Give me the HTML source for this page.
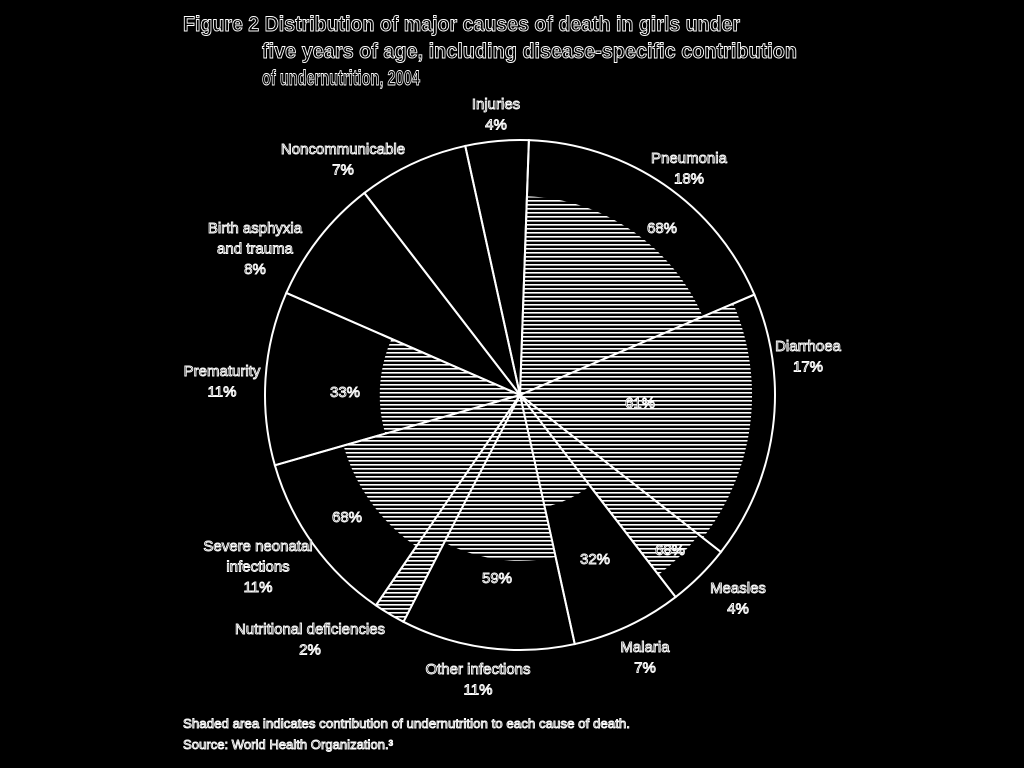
<!DOCTYPE html>
<html><head><meta charset="utf-8"><style>
html,body{margin:0;padding:0;background:#000;}
svg{display:block}
text{font-family:"Liberation Sans Narrow","Liberation Sans",sans-serif;fill:#000;stroke:#fff;stroke-width:0.9px;}
</style></head><body>
<svg id="chart" width="1024" height="768" viewBox="0 0 1024 768">
<defs>
<pattern id="hatch" patternUnits="userSpaceOnUse" width="8" height="4">
<rect width="8" height="4" fill="#000"/>
<rect y="0" width="8" height="1.6" fill="#fff"/>
</pattern>
</defs>
<g>
<text x="183" y="31" font-size="21" font-weight="bold" textLength="557" lengthAdjust="spacingAndGlyphs">Figure 2 Distribution of major causes of death in girls under</text>
<text x="262" y="58" font-size="21" font-weight="bold" textLength="535" lengthAdjust="spacingAndGlyphs">five years of age, including disease-specific contribution</text>
<text x="262" y="85" font-size="21" font-weight="bold" textLength="158" lengthAdjust="spacingAndGlyphs">of undernutrition, 2004</text>
</g>
<g id="slices"></g>
<g id="labels"></g>
<g>
<text x="183" y="728" font-size="13" textLength="447" lengthAdjust="spacingAndGlyphs">Shaded area indicates contribution of undernutrition to each cause of death.</text>
<text x="183" y="749" font-size="13" textLength="210" lengthAdjust="spacingAndGlyphs">Source: World Health Organization.³</text>
</g>
</svg>
<script>
const categories=["Pneumonia","Diarrhoea","Measles","Malaria","Other infections","Nutritional deficiencies","Severe neonatal infections","Prematurity","Birth asphyxia and trauma","Noncommunicable","Injuries"];
const shares=[18,17,4,7,11,2,11,11,8,7,4];
const undernutrition=[68,61,68,32,59,100,68,33,0,0,0];
const hatchRadius=[0.78,0.91,0.89,0.45,0.65,1.0,0.72,0.55,0,0,0];
const outerLabels=[
 [["Pneumonia","18%"],689,158],
 [["Diarrhoea","17%"],808,346],
 [["Measles","4%"],738,588],
 [["Malaria","7%"],645,647],
 [["Other infections","11%"],478,669],
 [["Nutritional deficiencies","2%"],310,629],
 [["Severe neonatal","infections","11%"],258,546],
 [["Prematurity","11%"],222,371],
 [["Birth asphyxia","and trauma","8%"],255,228],
 [["Noncommunicable","7%"],343,149],
 [["Injuries","4%"],496,104]];
const innerPos=[[662,228],[640,403],[670,550],[595,559],[497,578],null,[347,517],[345,392],null,null,null];
const CX=520,CY=395,R=255,START=2;
const NS="http://www.w3.org/2000/svg";
const sg=document.getElementById('slices'),lg=document.getElementById('labels');
function pt(a,r){const t=(a-90)*Math.PI/180;return [CX+r*Math.cos(t),CY+r*Math.sin(t)];}
function arc(a0,a1,r){const p0=pt(a0,r),p1=pt(a1,r);const lf=(a1-a0)>180?1:0;
 return `M${CX},${CY}L${p0[0]},${p0[1]}A${r},${r} 0 ${lf} 1 ${p1[0]},${p1[1]}Z`;}
const total=shares.reduce((a,b)=>a+b,0);
let a=START;
shares.forEach((s,i)=>{
 const a1=a+s/total*360;
 if(hatchRadius[i]>0){
  const h=document.createElementNS(NS,'path');
  h.setAttribute('d',arc(a,a1,R*hatchRadius[i]));
  h.setAttribute('fill','url(#hatch)');
  
  
  sg.appendChild(h);
 }
 const p=document.createElementNS(NS,'path');
 p.setAttribute('d',arc(a,a1,R));
 p.setAttribute('fill','none');p.setAttribute('stroke','#fff');p.setAttribute('stroke-width','2');
 
 
 sg.appendChild(p);
 a=a1;
});
outerLabels.forEach((L,i)=>{
 const t=document.createElementNS(NS,'text');
 t.setAttribute('text-anchor','middle');t.setAttribute('font-size','15');
 
 
 const lines=L[0].slice(0,-1).concat([shares[i]+'%']);
 lines.forEach((ln,k)=>{const ts=document.createElementNS(NS,'tspan');ts.setAttribute('x',L[1]);ts.setAttribute('y',L[2]+k*20.5+5);ts.textContent=ln;t.appendChild(ts);});
 lg.appendChild(t);
});
innerPos.forEach((p,i)=>{
 if(!p)return;
 const t=document.createElementNS(NS,'text');
 t.setAttribute('text-anchor','middle');t.setAttribute('font-size','15');
 t.setAttribute('x',p[0]);t.setAttribute('y',p[1]+5);
 t.textContent=undernutrition[i]+'%';
 
 
 lg.appendChild(t);
});
</script>
</body></html>
